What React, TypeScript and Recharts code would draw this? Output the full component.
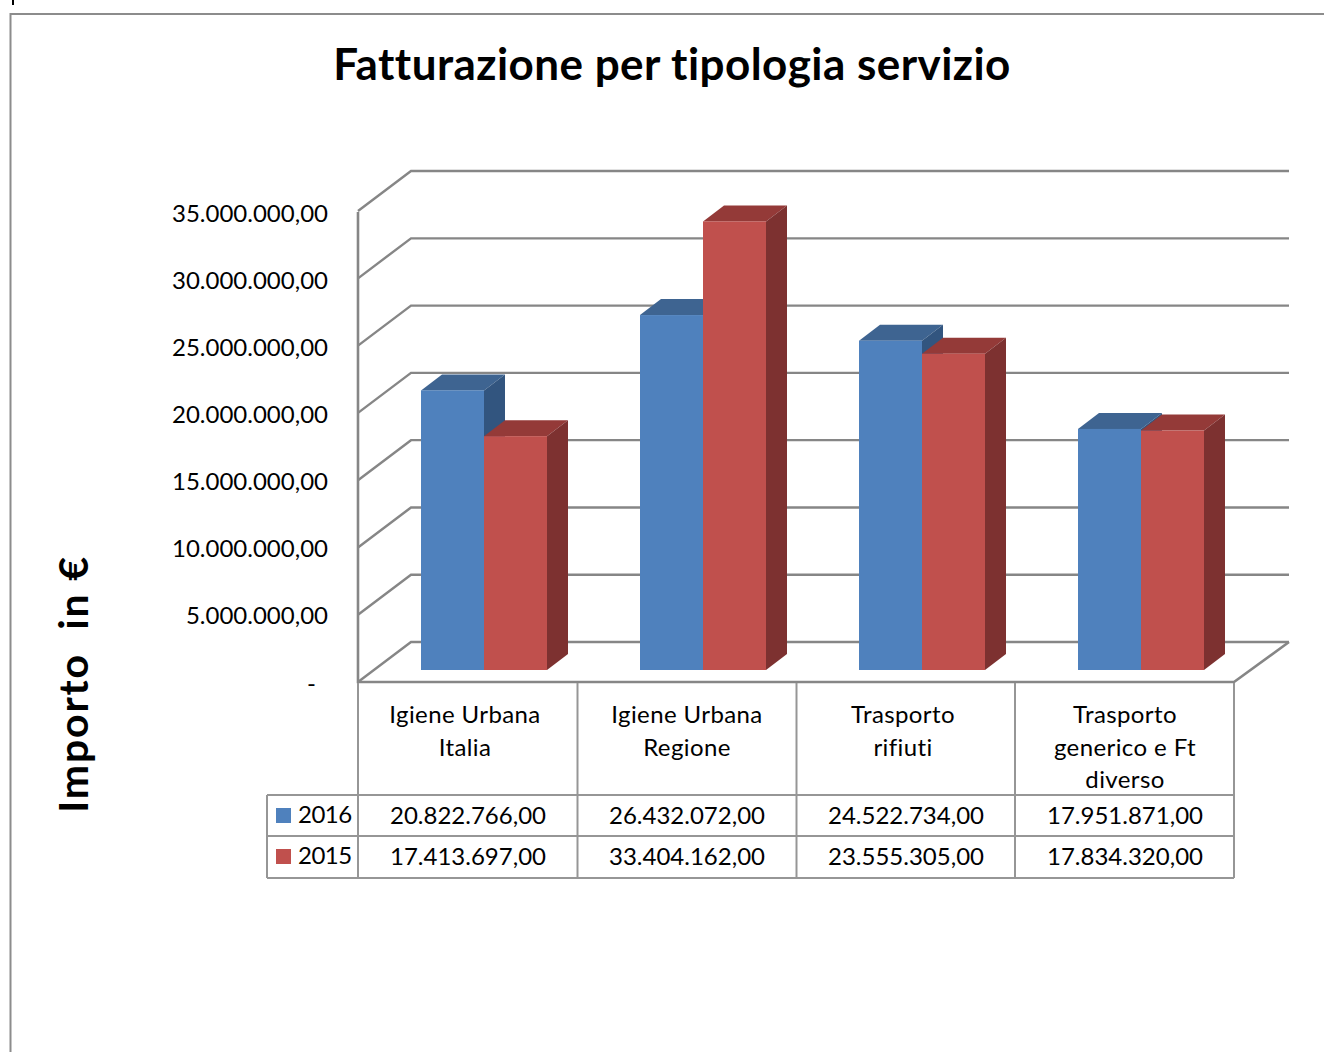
import { BarChart, Bar, XAxis, YAxis, CartesianGrid } from 'recharts'

const categories = ['Igiene Urbana Italia', 'Igiene Urbana Regione', 'Trasporto rifiuti', 'Trasporto generico e Ft diverso']
const categoryLines = [
  ['Igiene Urbana', 'Italia'],
  ['Igiene Urbana', 'Regione'],
  ['Trasporto', 'rifiuti'],
  ['Trasporto', 'generico e Ft', 'diverso'],
]
const values2016 = [20822766, 26432072, 24522734, 17951871]
const values2015 = [17413697, 33404162, 23555305, 17834320]
const yTicks = [0, 5000000, 10000000, 15000000, 20000000, 25000000, 30000000, 35000000]

const data = categories.map((name, i) => ({ name, y2016: values2016[i], y2015: values2015[i] }))

const FONT = 'Lato, sans-serif'
const NO_LIGA = { fontVariantLigatures: 'none' } as const
const GRID = '#868686'
const TABLE = '#969696'
const DEPTH_X = 21
const DEPTH_Y = 16

// table layout
const colEdges = [358, 577.5, 796.5, 1015, 1234]
const labelX = [465, 687, 903, 1125]
const valueX = [468, 687, 906, 1125]
const rows = [795, 836, 878]

const formatEuro = (v: number) => {
  if (v === 0) return '-'
  const whole = String(v).replace(/\B(?=(\d{3})+(?!\d))/g, '.')
  return `${whole},00`
}

function Bar3D({ x, y, width, height, fill, top, side }: any) {
  const r = x + width
  const b = y + height
  return (
    <g>
      <polygon points={`${x},${y} ${x + DEPTH_X},${y - DEPTH_Y} ${r + DEPTH_X},${y - DEPTH_Y} ${r},${y}`} fill={top} />
      <polygon points={`${r},${y} ${r + DEPTH_X},${y - DEPTH_Y} ${r + DEPTH_X},${b - DEPTH_Y} ${r},${b}`} fill={side} />
      <rect x={x} y={y} width={width} height={height} fill={fill} />
    </g>
  )
}

// back wall line plus the diagonal on the side wall
function GridLine({ y1 }: any) {
  const back = 642 - (670 - y1) * 1.002
  return <polyline points={`358,${back + 40} 411,${back} 1289,${back}`} fill="none" stroke={GRID} strokeWidth={2.4} />
}

function YTick({ y, payload }: any) {
  const isZero = payload.value === 0
  return (
    <text x={isZero ? 316 : 328} y={y + 21.6} textAnchor="end" fontFamily={FONT} fontSize={24} fill="#000">
      {formatEuro(payload.value)}
    </text>
  )
}

function DataTable() {
  const textProps = { fontFamily: FONT, fontSize: 24, fill: '#000', style: NO_LIGA }
  return (
    <g>
      <g fill="none" stroke={TABLE} strokeWidth={2}>
        {colEdges.map((x) => (
          <line key={x} x1={x} y1={683} x2={x} y2={878} />
        ))}
        <line x1={267} y1={795} x2={267} y2={878} />
        {rows.map((y) => (
          <line key={y} x1={267} y1={y} x2={1234} y2={y} />
        ))}
      </g>
      {categoryLines.map((lines, i) =>
        lines.map((t, j) => (
          <text key={t} x={labelX[i]} y={723 + j * 32.5} textAnchor="middle" letterSpacing={0.4} {...textProps}>
            {t}
          </text>
        ))
      )}
      {values2016.map((v, i) => (
        <text key={v} x={valueX[i]} y={824} textAnchor="middle" {...textProps}>
          {formatEuro(v)}
        </text>
      ))}
      {values2015.map((v, i) => (
        <text key={v} x={valueX[i]} y={865} textAnchor="middle" {...textProps}>
          {formatEuro(v)}
        </text>
      ))}
      <rect x={276} y={808} width={15} height={15} fill="#4F81BD" />
      <text x={298} y={823} letterSpacing={-0.5} {...textProps}>2016</text>
      <rect x={276} y={849} width={15} height={15} fill="#C0504D" />
      <text x={298} y={864} letterSpacing={-0.5} {...textProps}>2015</text>
    </g>
  )
}

export default function App() {
  return (
    <div style={{ position: 'absolute', left: 0, top: 0, width: 1324, height: 1052, background: '#fff', overflow: 'hidden' }}>
      <BarChart
        width={1324}
        height={1052}
        data={data}
        margin={{ top: 200, right: 74, bottom: 382, left: 274 }}
        barGap={0}
        barCategoryGap={47}
      >
        {/* outer frame */}
        <polyline points="10.5,1052 10.5,14 1324,14" fill="none" stroke="#8c8c8c" strokeWidth={2} />
        <line x1={13} y1={0} x2={13} y2={5} stroke="#000" strokeWidth={2} />

        <text x={672} y={80} textAnchor="middle" fontFamily={FONT} fontSize={44} fontWeight={700} fill="#000" letterSpacing={0.45} style={NO_LIGA}>
          Fatturazione per tipologia servizio
        </text>
        <text
          transform="translate(88,684) rotate(-90)"
          textAnchor="middle"
          fontFamily={FONT}
          fontSize={41}
          fontWeight={700}
          fill="#000"
          letterSpacing={1.8}
          xmlSpace="preserve"
          style={NO_LIGA}
        >
          Importo  in €
        </text>

        <CartesianGrid vertical={false} horizontal={(p: any) => <GridLine key={p.y1} {...p} />} />
        <polyline points="358,212 358,682 1234,682 1289,642" fill="none" stroke={GRID} strokeWidth={2.6} />

        <XAxis dataKey="name" hide />
        <YAxis
          width={100}
          domain={[0, 35000000]}
          ticks={yTicks}
          axisLine={false}
          tickLine={false}
          interval={0}
          tick={(p: any) => <YTick {...p} />}
        />

        <Bar
          dataKey="y2016"
          fill="#4F81BD"
          isAnimationActive={false}
          shape={(p: any) => <Bar3D {...p} top="#3E6491" side="#32557F" />}
        />
        <Bar
          dataKey="y2015"
          fill="#C0504D"
          isAnimationActive={false}
          shape={(p: any) => <Bar3D {...p} top="#943A38" side="#7D3130" />}
        />

        <DataTable />
      </BarChart>
    </div>
  )
}
